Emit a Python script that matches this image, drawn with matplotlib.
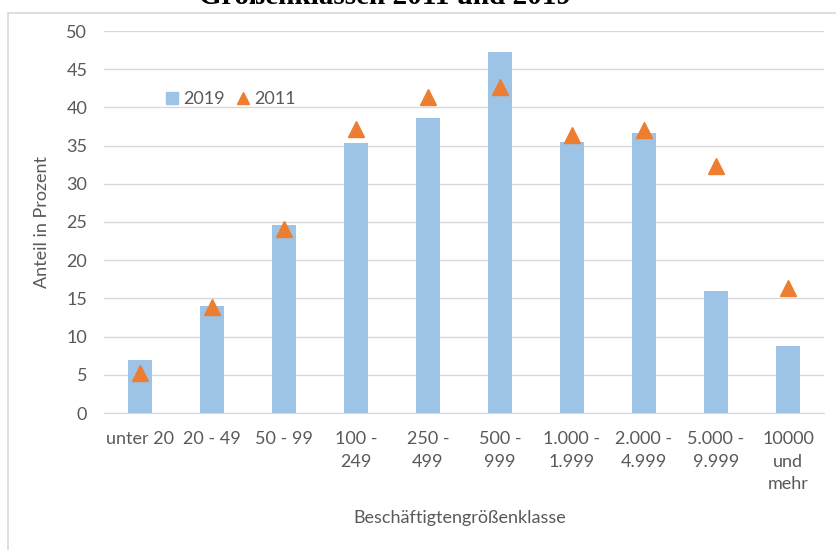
import matplotlib.pyplot as plt
from matplotlib.patches import Rectangle
from matplotlib.lines import Line2D
import numpy as np

plt.rcParams['font.family'] = ['Lato', 'DejaVu Sans']

# Anteil in Prozent je Beschäftigtengrößenklasse
klassen = ['unter 20', '20 - 49', '50 - 99', '100 -\n249', '250 -\n499', '500 -\n999',
           '1.000 -\n1.999', '2.000 -\n4.999', '5.000 -\n9.999', '10000\nund\nmehr']
werte_2019 = [6.9, 14.0, 24.6, 35.3, 38.6, 47.3, 35.5, 36.6, 16.0, 8.8]
werte_2011 = [5.2, 13.9, 24.1, 37.2, 41.3, 42.7, 36.4, 37.0, 32.3, 16.4]

grau = '#595959'
blau = '#9DC3E6'
orange = '#ED7D31'

fig = plt.figure(figsize=(8.37, 5.5), dpi=100)
ax = fig.add_axes([104 / 837, 1 - 413 / 550, 720 / 837, 382 / 550])

x = np.arange(len(klassen))
ax.bar(x, werte_2019, width=0.32, color=blau, zorder=2, label='2019')
ax.plot(x, werte_2011, linestyle='none', marker='^', markersize=11.5,
        color=orange, zorder=3, label='2011')

ax.set_xlim(-0.5, len(klassen) - 0.5)
ax.set_ylim(0, 50)
ax.set_yticks(range(0, 51, 5))
ax.set_xticks(x)
ax.set_xticklabels(klassen, linespacing=1.5, va='top')
ax.tick_params(axis='both', length=0, colors=grau, labelsize=13)
ax.tick_params(axis='x', pad=13)
ax.tick_params(axis='y', pad=12)

ax.grid(axis='y', color='#D9D9D9', linewidth=1, zorder=0)
for side in ['top', 'right', 'left']:
    ax.spines[side].set_visible(False)
ax.spines['bottom'].set_color('#D9D9D9')

ax.set_ylabel('Anteil in Prozent', color=grau, fontsize=13, labelpad=10)
ax.yaxis.set_label_coords(-(104 - 50) / 720, 0.5)
fig.text(460 / 837, 1 - 518 / 550, 'Beschäftigtengrößenklasse', color=grau,
         fontsize=13, ha='center', va='center')

handles = [Line2D([], [], linestyle='none', marker='s', markersize=8, color=blau),
           Line2D([], [], linestyle='none', marker='^', markersize=9, color=orange)]
ax.legend(handles, ['2019', '2011'], loc='upper left', bbox_to_anchor=(0.06, 0.885),
          ncol=2, frameon=False, fontsize=13, labelcolor=grau,
          handletextpad=0.1, columnspacing=0.5, handlelength=1.0)

# Rahmen des Diagrammbereichs
fig.patches.append(Rectangle((8 / 837, -0.05), 1.1, 1.05 - 13 / 550,
                             transform=fig.transFigure, fill=False,
                             edgecolor='#D9D9D9', linewidth=1.2))

fig.text(385 / 837, 1 - 4 / 550, 'Größenklassen 2011 und 2019',
         family='Liberation Serif', fontweight='bold', fontsize=21,
         ha='center', va='baseline', color='black')

fig.savefig('out.png', dpi=100)
